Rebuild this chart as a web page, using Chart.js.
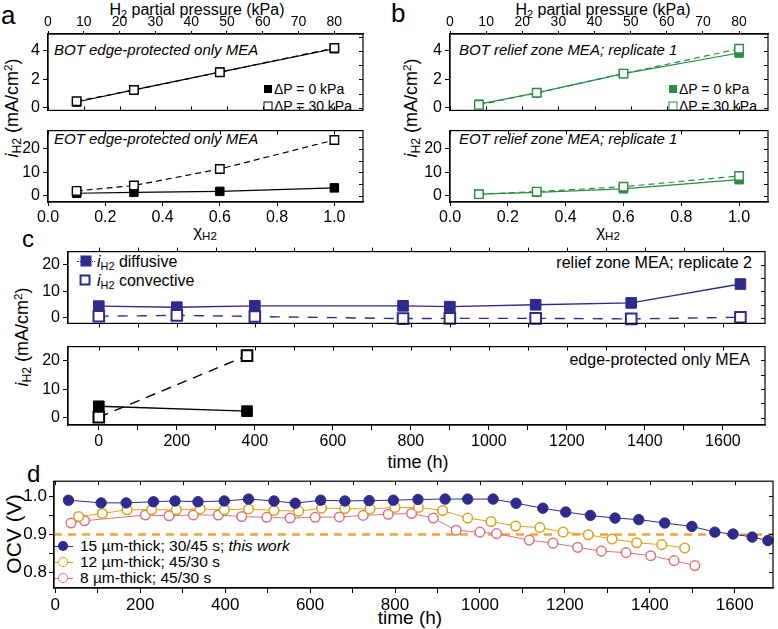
<!DOCTYPE html>
<html>
<head>
<meta charset="utf-8">
<script src="https://cdn.jsdelivr.net/npm/chart.js@4.4.0/dist/chart.umd.min.js"></script>
<style>
  body { margin: 0; background: #fff; }
  #wrap { position: relative; width: 778px; height: 629px; overflow: hidden;
          font-family: "Liberation Sans", Arial, sans-serif; color: #000; }
  canvas { position: absolute; }
  .t { position: absolute; white-space: nowrap; line-height: 1; transform: translate(0, -50%); }
  .c { transform: translate(-50%, -50%); }
  .r { transform: translate(-100%, -50%); }
  .rot { transform: translate(-50%, -50%) rotate(-90deg); }
  .mk { position: absolute; box-sizing: border-box; transform: translate(-50%, -50%); }
  .ln { position: absolute; height: 0; border-top: 1px solid; }
  sub { font-size: 68%; vertical-align: -0.28em; line-height: 0; }
  sup { font-size: 65%; vertical-align: 0.5em; line-height: 0; }
</style>
</head>
<body>
<div id="wrap">
  <!-- panel letters -->
  <div class="t" style="left:1px;top:15px;font-size:26px">a</div>
  <div class="t" style="left:391px;top:13px;font-size:26px">b</div>
  <div class="t" style="left:22px;top:239px;font-size:24px">c</div>
  <div class="t" style="left:27px;top:474px;font-size:24px">d</div>

  <!-- panel a / b axis titles -->
  <div class="t c" style="left:197px;top:10px;font-size:16px">H<sub>2</sub> partial pressure (kPa)</div>
  <div class="t c" style="left:603px;top:10px;font-size:16px">H<sub>2</sub> partial pressure (kPa)</div>
  <div class="t c" style="left:205px;top:231px;font-size:17px">χ<sub>H2</sub></div>
  <div class="t c" style="left:608px;top:231px;font-size:17px">χ<sub>H2</sub></div>
  <div class="t rot" style="left:12px;top:108px;font-size:18px"><i>i</i><sub>H2</sub> (mA/cm<sup>2</sup>)</div>
  <div class="t rot" style="left:411px;top:108px;font-size:18px"><i>i</i><sub>H2</sub> (mA/cm<sup>2</sup>)</div>

  <div class="t" style="left:54px;top:49px;font-size:15px;font-style:italic">BOT edge-protected only MEA</div>
  <div class="t" style="left:54px;top:138px;font-size:15px;font-style:italic">EOT edge-protected only MEA</div>
  <div class="t" style="left:459px;top:49px;font-size:15px;font-style:italic">BOT relief zone MEA; replicate 1</div>
  <div class="t" style="left:459px;top:138px;font-size:15px;font-style:italic">EOT relief zone MEA; replicate 1</div>

  <div class="mk" style="left:268px;top:89px;width:8px;height:8px;background:#000"></div>
  <div class="t" style="left:274px;top:89px;font-size:14px">ΔP = 0 kPa</div>
  <div class="mk" style="left:268px;top:106px;width:9px;height:9px;border:1.3px solid #000;background:#fff"></div>
  <div class="t" style="left:274px;top:106px;font-size:14px">ΔP = 30 kPa</div>
  <div class="mk" style="left:673px;top:89px;width:8px;height:8px;background:#2a8c45"></div>
  <div class="t" style="left:679px;top:89px;font-size:14px">ΔP = 0 kPa</div>
  <div class="mk" style="left:673px;top:106px;width:9px;height:9px;border:1.3px solid #2a8c45;background:#fff"></div>
  <div class="t" style="left:679px;top:106px;font-size:14px">ΔP = 30 kPa</div>

  <!-- panel c texts -->
  <div class="t rot" style="left:22px;top:337px;font-size:18px"><i>i</i><sub>H2</sub> (mA/cm<sup>2</sup>)</div>
  <div class="t c" style="left:418px;top:462px;font-size:18px">time (h)</div>
  <div class="ln" style="left:77px;top:261px;width:18px;color:#2e2b8c;border-top-style:dotted"></div>
  <div class="mk" style="left:86px;top:261px;width:11px;height:11px;background:#2e2b8c"></div>
  <div class="t" style="left:97px;top:262px;font-size:16px"><i>i</i><sub>H2</sub> diffusive</div>
  <div class="mk" style="left:85px;top:280px;width:11px;height:11px;border:2px solid #2e2b8c;background:#fff"></div>
  <div class="t" style="left:97px;top:281px;font-size:16px"><i>i</i><sub>H2</sub> convective</div>
  <div class="t r" style="left:752px;top:263px;font-size:16px">relief zone MEA; replicate 2</div>
  <div class="t r" style="left:750px;top:360px;font-size:16px">edge-protected only MEA</div>

  <!-- panel d texts -->
  <div class="t rot" style="left:13px;top:534px;font-size:21px">OCV (V)</div>
  <div class="t c" style="left:410px;top:617px;font-size:19px">time (h)</div>
  <div class="ln" style="left:53px;top:546px;width:20px;color:#2e2b8c"></div>
  <div class="mk" style="left:63px;top:546px;width:10px;height:10px;border-radius:50%;background:#2e2b8c"></div>
  <div class="t" style="left:80px;top:546px;font-size:15.5px">15 µm-thick; 30/45 s; <i>this work</i></div>
  <div class="ln" style="left:53px;top:562px;width:20px;color:#dba21c"></div>
  <div class="mk" style="left:63px;top:562px;width:10px;height:10px;border-radius:50%;border:1.5px solid #dba21c;background:#fff"></div>
  <div class="t" style="left:80px;top:562px;font-size:15.5px">12 µm-thick; 45/30 s</div>
  <div class="ln" style="left:53px;top:578px;width:20px;color:#e2707f"></div>
  <div class="mk" style="left:63px;top:578px;width:10px;height:10px;border-radius:50%;border:1.5px solid #e2707f;background:#fff"></div>
  <div class="t" style="left:80px;top:578px;font-size:15.5px">8 µm-thick; 45/30 s</div>
</div>

<script>
// ---- panels a, b: current vs H2 fraction
const chi = [0.1, 0.3, 0.6, 1.0];
const chiTicks = [0, 0.2, 0.4, 0.6, 0.8, 1.0];
const kpaTicks = [0, 10, 20, 30, 40, 50, 60, 70, 80];
const botYTicks = [0, 2, 4];
const eotYTicks = [0, 10, 20];

const botEdge0 = [0.4, 1.25, 2.5, 4.15];
const botEdge30 = [0.45, 1.25, 2.5, 4.2];
const eotEdge0 = [1.0, 1.4, 1.8, 3.3];
const eotEdge30 = [2.0, 4.3, 11.4, 23.8];
const botRelief0 = [0.25, 1.05, 2.4, 3.85];
const botRelief30 = [0.2, 1.05, 2.4, 4.15];
const eotRelief0 = [0.6, 1.4, 2.9, 6.8];
const eotRelief30 = [0.6, 1.7, 3.8, 8.4];

// ---- panel c: current vs time
const timeTicks = [0, 100, 200, 300, 400, 500, 600, 700, 800, 900, 1000, 1100, 1200, 1300, 1400, 1500, 1600];
const timeRelief = [0, 200, 400, 780, 900, 1120, 1365, 1645];
const reliefDiffusive = [4.4, 4.0, 4.5, 4.5, 4.2, 4.9, 5.6, 12.7];
const reliefConvective = [0.6, 0.9, 0.5, -0.3, -0.2, -0.2, -0.4, 0.2];
const timeEdge = [0, 380];
const edgeDiffusive = [4.0, 2.3];
const edgeConvective = [0.2, 21.7];
const cYTicks = [0, 10, 20];

// ---- panel d: OCV vs time
const time15 = [31, 108, 167, 231, 282, 336, 398, 455, 515, 565, 625, 682, 739, 796, 854, 918, 971, 1031,
                1085, 1148, 1202, 1260, 1318, 1374, 1435, 1499, 1553, 1596, 1641, 1678];
const ocv15 = [0.990, 0.983, 0.983, 0.986, 0.988, 0.986, 0.988, 0.993, 0.988, 0.982, 0.990, 0.988, 0.989, 0.990,
               0.992, 0.993, 0.993, 0.993, 0.982, 0.969, 0.959, 0.950, 0.943, 0.939, 0.930, 0.921, 0.906, 0.901, 0.893, 0.884];
const time12 = [55, 111, 169, 227, 285, 341, 398, 455, 515, 573, 627, 682, 741, 800, 855, 912, 971, 1026,
                1084, 1141, 1196, 1255, 1311, 1369, 1428, 1482];
const ocv12 = [0.947, 0.955, 0.965, 0.965, 0.965, 0.967, 0.965, 0.967, 0.963, 0.961, 0.969, 0.968, 0.967, 0.971,
               0.971, 0.963, 0.943, 0.934, 0.922, 0.918, 0.906, 0.899, 0.888, 0.878, 0.873, 0.864];
const time8 = [37, 69, 212, 268, 325, 384, 439, 498, 553, 612, 669, 725, 784, 839, 890, 944, 1000, 1039,
               1116, 1172, 1230, 1286, 1344, 1402, 1457, 1506];
const ocv8 = [0.930, 0.936, 0.951, 0.949, 0.951, 0.951, 0.947, 0.945, 0.943, 0.945, 0.946, 0.950, 0.953, 0.955,
              0.943, 0.911, 0.906, 0.902, 0.885, 0.877, 0.866, 0.856, 0.852, 0.844, 0.831, 0.818];
const ocvLimit = 0.9;
const ocvTicks = [0.8, 0.85, 0.9, 0.95, 1.0];

const GREEN = '#2a8c45', BLUE = '#2e2b8c', GOLD = '#dba21c', PINK = '#e2707f', ORANGE = '#f6a33c';

Chart.defaults.font.family = '"Liberation Sans", Arial, sans-serif';
Chart.defaults.color = '#000';

// box around the plot + mirrored ticks (len > 0 outward, < 0 inward)
const frame = {
  id: 'frame',
  afterDraw(chart, args, o) {
    const { ctx, chartArea: a } = chart;
    ctx.save();
    ctx.strokeStyle = '#000';
    ctx.lineWidth = 1.2;
    ctx.strokeRect(a.left, a.top, a.right - a.left, a.bottom - a.top);
    ctx.lineWidth = 1;
    (o.marks || []).forEach(m => {
      const s = chart.scales[m.scale];
      m.vals.forEach(v => {
        const p = Math.round(s.getPixelForValue(v)) + 0.5;
        ctx.beginPath();
        if (m.side === 'top') { ctx.moveTo(p, a.top); ctx.lineTo(p, a.top - m.len); }
        else if (m.side === 'bottom') { ctx.moveTo(p, a.bottom); ctx.lineTo(p, a.bottom + m.len); }
        else { ctx.moveTo(a.right, p); ctx.lineTo(a.right + m.len, p); }
        ctx.stroke();
      });
    });
    ctx.restore();
  }
};

function linAxis(pos, min, max, ticks, o) {
  o = o || {};
  const horiz = pos === 'top' || pos === 'bottom';
  return {
    type: 'linear', position: pos, min: min, max: max, display: !o.hide,
    afterBuildTicks: s => { s.ticks = ticks.map(v => ({ value: v })); },
    afterFit: s => { if (o.fit !== undefined) { if (horiz) s.height = o.fit; else s.width = o.fit; } },
    ticks: { font: { size: o.size || 15 }, color: '#000', padding: o.pad === undefined ? 2 : o.pad,
             maxRotation: 0, autoSkip: false, callback: o.fmt || (v => String(v)) },
    grid: { drawOnChartArea: false, drawTicks: true, tickLength: o.tl || 4, color: '#000', lineWidth: 1 },
    border: { display: true, color: '#000', width: 1.2 }
  };
}

function series(xs, ys, color, filled, dash, r, style, order) {
  return {
    data: xs.map((x, i) => ({ x: x, y: ys[i] })),
    borderColor: color, borderWidth: 1.2, borderDash: dash, fill: false, tension: 0,
    pointStyle: style || 'rect', pointRadius: r, pointHoverRadius: r,
    pointBackgroundColor: filled ? color : '#fff', pointBorderColor: color,
    pointBorderWidth: filled ? 1 : 1.4, clip: false, order: order || 0
  };
}

function makeChart(box, pad, datasets, scales, marks, hasTop, hasBottom) {
  const cv = document.createElement('canvas');
  cv.width = box.r - box.l + pad.l + pad.r;
  cv.height = box.b - box.t + pad.t + pad.b;
  cv.style.left = (box.l - pad.l) + 'px';
  cv.style.top = (box.t - pad.t) + 'px';
  document.getElementById('wrap').appendChild(cv);
  return new Chart(cv, {
    type: 'line',
    data: { datasets: datasets },
    options: {
      responsive: false, animation: false, events: [],
      layout: { autoPadding: false,
                padding: { left: 0, right: pad.r, top: hasTop ? 0 : pad.t, bottom: hasBottom ? 0 : pad.b } },
      plugins: { legend: { display: false }, tooltip: { enabled: false }, frame: { marks: marks } },
      scales: scales
    },
    plugins: [frame]
  });
}

const fmt1 = v => v.toFixed(1);
const fmtTime = v => (v % 200 === 0 ? String(v) : '');
const fmtOcv = v => (Math.round(v * 100) % 10 === 0 ? v.toFixed(1) : '');

// panel a and b (same layout, different left edge)
function panelAB(left, right, bot0, bot30, eot0, eot30, color) {
  makeChart({ l: left, r: right, t: 34, b: 117 }, { l: 42, r: 6, t: 30, b: 6 },
    [series(chi, bot30, color, false, [6, 4], 6, 'rect', 0), series(chi, bot0, color, true, [], 6, 'rect', 1)],
    {
      x: linAxis('bottom', 0, 1.1, chiTicks, { hide: true }),
      x2: linAxis('top', 0, 88, kpaTicks, { fit: 30, size: 14, tl: 3, pad: 0 }),
      y: linAxis('left', -0.19, 5.19, botYTicks, { fit: 42, size: 16, tl: 5, pad: 3 })
    },
    [{ scale: 'x2', side: 'bottom', vals: kpaTicks, len: -4 },
     { scale: 'y', side: 'right', vals: [0, 1, 2, 3, 4, 5], len: -4 }], true, false);

  makeChart({ l: left, r: right, t: 124, b: 202 }, { l: 42, r: 6, t: 6, b: 26 },
    [series(chi, eot30, color, false, [6, 4], 6, 'rect', 0), series(chi, eot0, color, true, [], 6, 'rect', 1)],
    {
      x: linAxis('bottom', 0, 1.1, chiTicks, { fit: 26, size: 16, tl: 4, pad: 2, fmt: fmt1 }),
      y: linAxis('left', -2.75, 27.84, eotYTicks, { fit: 42, size: 16, tl: 5, pad: 3 })
    },
    [{ scale: 'x', side: 'top', vals: chiTicks, len: -4 },
     { scale: 'y', side: 'right', vals: [0, 5, 10, 15, 20, 25], len: -4 }], false, true);
}

panelAB(48, 363, botEdge0, botEdge30, eotEdge0, eotEdge30, '#000');
panelAB(450, 768, botRelief0, botRelief30, eotRelief0, eotRelief30, GREEN);

// panel c
function cSeries(xs, ys, color, filled, dash, order) {
  const d = series(xs, ys, color, filled, dash, 7.5, 'rect', order);
  d.borderWidth = 1.4;
  d.pointBorderWidth = filled ? 1 : 2;
  return d;
}

makeChart({ l: 68, r: 765, t: 247, b: 328 }, { l: 40, r: 6, t: 8, b: 8 },
  [cSeries(timeRelief, reliefConvective, BLUE, false, [10, 9], 0),
   cSeries(timeRelief, reliefDiffusive, BLUE, true, [], 1)],
  {
    x: linAxis('bottom', -79, 1708, timeTicks, { hide: true }),
    y: linAxis('left', -2.1, 24.9, cYTicks, { fit: 40, size: 16, tl: 5, pad: 3 })
  },
  [{ scale: 'x', side: 'top', vals: timeTicks, len: 4 },
   { scale: 'x', side: 'bottom', vals: timeTicks, len: 4 },
   { scale: 'y', side: 'right', vals: [0, 5, 10, 15, 20], len: -4 }], false, false);

makeChart({ l: 68, r: 765, t: 342, b: 425 }, { l: 40, r: 6, t: 8, b: 26 },
  [cSeries(timeEdge, edgeConvective, '#000', false, [10, 7], 0),
   cSeries(timeEdge, edgeDiffusive, '#000', true, [], 1)],
  {
    x: linAxis('bottom', -79, 1708, timeTicks, { fit: 26, size: 16, tl: 5, pad: 2, fmt: fmtTime }),
    y: linAxis('left', -2.54, 24.85, cYTicks, { fit: 40, size: 16, tl: 5, pad: 3 })
  },
  [{ scale: 'x', side: 'top', vals: timeTicks, len: -4 },
   { scale: 'y', side: 'right', vals: [0, 5, 10, 15, 20], len: -4 }], false, true);

// panel d
const dMin = -3, dMax = 1690;
function dSeries(xs, ys, color, filled, order) {
  const d = series(xs, ys, color, filled, [], filled ? 5.2 : 4.8, 'circle', order);
  d.borderWidth = 1;
  d.pointBorderWidth = filled ? 1 : 1.5;
  return d;
}
const limitLine = {
  data: [{ x: dMin, y: ocvLimit }, { x: dMax, y: ocvLimit }],
  borderColor: ORANGE, borderWidth: 2.5, borderDash: [8, 6], pointRadius: 0, fill: false, order: 10
};

makeChart({ l: 54, r: 773, t: 475, b: 588 }, { l: 42, r: 5, t: 6, b: 26 },
  [dSeries(time15, ocv15, BLUE, true, 0), dSeries(time12, ocv12, GOLD, false, 1),
   dSeries(time8, ocv8, PINK, false, 2), limitLine],
  {
    x: linAxis('bottom', dMin, dMax, timeTicks, { fit: 26, size: 17, tl: 5, pad: 2, fmt: fmtTime }),
    y: linAxis('left', 0.759, 1.04, ocvTicks, { fit: 42, size: 17, tl: 5, pad: 2, fmt: fmtOcv })
  },
  [{ scale: 'x', side: 'top', vals: timeTicks, len: -4 },
   { scale: 'y', side: 'right', vals: ocvTicks, len: -4 }], false, true);
</script>
</body>
</html>
